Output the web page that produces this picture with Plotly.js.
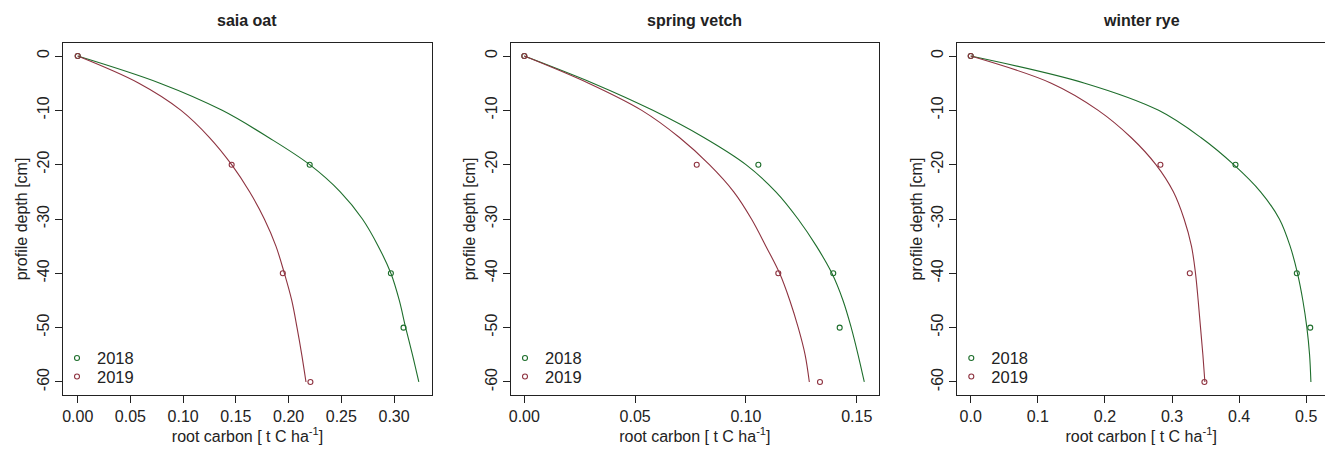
<!DOCTYPE html>
<html>
<head>
<meta charset="utf-8">
<script src="https://cdn.plot.ly/plotly-3.0.1.min.js"></script>
<style>html,body{margin:0;padding:0;background:#fff;}#chart{width:1325px;height:450px;}</style>
</head>
<body>
<div id="chart"></div>
<script>
// ---- panel titles and series names ----
const panelTitles = ["saia oat", "spring vetch", "winter rye"];
const seriesNames = ["2018", "2019"];

// ---- observed points (depth cm, root carbon t C/ha) ----
const obsDepth2018 = [0, -20, -40, -50];
const obsDepth2019 = [0, -20, -40, -60];
const oatObs2018 = [0, 0.220, 0.297, 0.309];
const oatObs2019 = [0, 0.146, 0.1945, 0.2207];
const vetchObs2018 = [0, 0.1056, 0.1394, 0.1423];
const vetchObs2019 = [0, 0.0778, 0.1146, 0.1334];
const ryeObs2018 = [0, 0.3946, 0.486, 0.506];
const ryeObs2019 = [0, 0.2827, 0.3265, 0.3483];

// ---- fitted curves (every 5 cm) ----
const curveDepth = [0, -5, -10, -15, -20, -25, -30, -35, -40, -45, -50, -55, -60];
const oatFit2018 = [0, 0.078, 0.137, 0.181, 0.220, 0.249, 0.270, 0.285, 0.297, 0.305, 0.311, 0.3175, 0.3235];
const oatFit2019 = [0, 0.058, 0.098, 0.125, 0.146, 0.163, 0.177, 0.188, 0.196, 0.203, 0.208, 0.2125, 0.2165];
const vetchFit2018 = [0, 0.031, 0.058, 0.081, 0.100, 0.1135, 0.1235, 0.1318, 0.1388, 0.1438, 0.1475, 0.1506, 0.1534];
const vetchFit2019 = [0, 0.029, 0.053, 0.070, 0.0835, 0.0945, 0.1025, 0.109, 0.1152, 0.1198, 0.1236, 0.1267, 0.1286];
const ryeFit2018 = [0, 0.170, 0.280, 0.343, 0.392, 0.432, 0.460, 0.476, 0.487, 0.495, 0.501, 0.505, 0.507];
const ryeFit2019 = [0, 0.120, 0.190, 0.239, 0.276, 0.302, 0.318, 0.329, 0.335, 0.339, 0.3425, 0.346, 0.349];

// ---- tick labels ----
const yTickVals = [0, -10, -20, -30, -40, -50, -60];
const yTickText = ["0", "-10", "-20", "-30", "-40", "-50", "-60"];
const oatTickVals = [0, 0.05, 0.10, 0.15, 0.20, 0.25, 0.30];
const oatTickText = ["0.00", "0.05", "0.10", "0.15", "0.20", "0.25", "0.30"];
const vetchTickVals = [0, 0.05, 0.10, 0.15];
const vetchTickText = ["0.00", "0.05", "0.10", "0.15"];
const ryeTickVals = [0, 0.1, 0.2, 0.3, 0.4, 0.5];
const ryeTickText = ["0.0", "0.1", "0.2", "0.3", "0.4", "0.5"];

const xTitle = "root carbon [ t C ha<sup>-1</sup>]";
const yTitle = "profile depth [cm]";

// ---- styling ----
const GREEN = "#1e6e2c";
const RED = "#8e3340";
const FONT = "Liberation Sans, Arial, sans-serif";
const TXT = "#222";
const W = 1325, T = 43, B = 55, H = 450;
const plotH = H - T - B;

const panels = [
  {fit: [oatFit2018, oatFit2019], obs: [oatObs2018, oatObs2019], tv: oatTickVals, tt: oatTickText, range: [-0.01395, 0.336], domain: [63/W, 432/W]},
  {fit: [vetchFit2018, vetchFit2019], obs: [vetchObs2018, vetchObs2019], tv: vetchTickVals, tt: vetchTickText, range: [-0.0060, 0.1599], domain: [511/W, 878.7/W]},
  {fit: [ryeFit2018, ryeFit2019], obs: [ryeObs2018, ryeObs2019], tv: ryeTickVals, tt: ryeTickText, range: [-0.020, 0.528], domain: [957.3/W, 1]}
];
const obsDepths = [obsDepth2018, obsDepth2019];
const colors = [GREEN, RED];
const legendRowsPx = [358.3, 376.7];

const traces = [];
const layout = {
  width: W, height: H,
  margin: {l: 0, r: 0, t: T, b: B, pad: 0},
  paper_bgcolor: "#ffffff", plot_bgcolor: "#ffffff",
  font: {family: FONT, size: 16, color: TXT},
  showlegend: true,
  annotations: []
};

let legIdx = 0;
panels.forEach((p, i) => {
  const sfx = i === 0 ? "" : String(i + 1);
  const xa = "x" + sfx, ya = "y" + sfx;
  for (let s = 0; s < 2; s++) {
    traces.push({
      type: "scatter", mode: "lines", x: p.fit[s], y: curveDepth,
      xaxis: xa, yaxis: ya, line: {color: colors[s], width: 1.1, shape: "spline", smoothing: 1},
      showlegend: false, hoverinfo: "skip"
    });
  }
  for (let s = 0; s < 2; s++) {
    legIdx++;
    const legName = legIdx === 1 ? "legend" : "legend" + legIdx;
    traces.push({
      type: "scatter", mode: "markers", name: seriesNames[s], x: p.obs[s], y: obsDepths[s],
      xaxis: xa, yaxis: ya, legend: legName,
      marker: {symbol: "circle-open", size: 5, color: colors[s], line: {width: 1.1, color: colors[s]}},
      showlegend: true
    });
    layout[legName] = {
      x: p.domain[0] - 6/W, y: (H - B - legendRowsPx[s]) / plotH, xanchor: "left", yanchor: "middle",
      bgcolor: "rgba(0,0,0,0)", borderwidth: 0,
      font: {size: 16.5, color: TXT, family: FONT}, itemwidth: 30
    };
  }
  layout["xaxis" + sfx] = {
    domain: p.domain, anchor: ya, range: p.range, autorange: false,
    tickvals: p.tv, ticktext: p.tt, ticks: "outside", ticklen: 7, tickwidth: 1, tickcolor: TXT,
    showline: true, linecolor: TXT, linewidth: 1, mirror: true, showgrid: false, zeroline: false,
    tickfont: {size: 16, color: TXT},
    title: {text: xTitle, font: {size: 16, color: TXT}, standoff: 4}
  };
  layout["yaxis" + sfx] = {
    domain: [0, 1], anchor: xa, range: [-62.4, 2.4], autorange: false,
    tickvals: yTickVals, ticktext: yTickText, tickangle: -90, ticks: "outside", ticklen: 7, tickwidth: 1, tickcolor: TXT,
    showline: true, linecolor: TXT, linewidth: 1, mirror: true, showgrid: false, zeroline: false,
    tickfont: {size: 16, color: TXT},
    title: {text: yTitle, font: {size: 16, color: TXT}, standoff: 2}
  };
  layout.annotations.push({
    text: "<b>" + panelTitles[i] + "</b>", xref: "paper", yref: "paper",
    x: (p.domain[0] + Math.min(p.domain[1], 1326/W)) / 2, y: 1, yshift: 23,
    xanchor: "center", yanchor: "middle", showarrow: false,
    font: {size: 16, color: TXT, family: FONT}
  });
});

Plotly.newPlot("chart", traces, layout, {staticPlot: true, displayModeBar: false});
</script>
</body>
</html>
